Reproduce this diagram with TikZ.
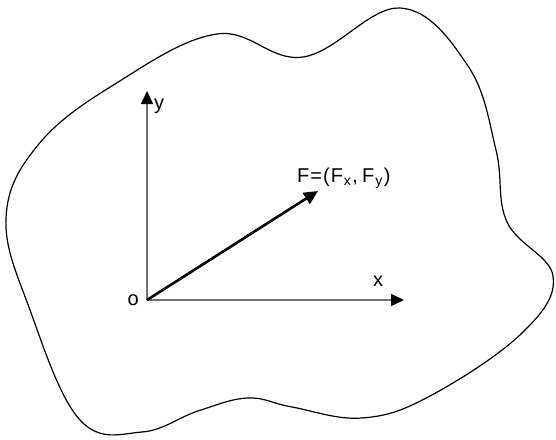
\documentclass[tikz,border=0pt]{standalone}
\usepackage{fontspec}
\setmainfont{Liberation Sans}
\usetikzlibrary{arrows.meta}
\begin{document}
\begin{tikzpicture}[x=1pt,y=-1pt,
  blob/.style={line width=1.2pt, black},
  axis/.style={line width=1.6pt, black!55, -{Triangle[length=13pt,width=12pt,fill=black,color=black]}},
  force/.style={line width=2.6pt, black, -{Triangle[length=14pt,width=13pt]}},
  lbl/.style={font=\fontsize{20}{20}\selectfont, inner sep=0pt}]
\useasboundingbox (0,0) rectangle (556,439);
\draw[blob] plot[smooth cycle, tension=0.65] coordinates {
 (6,218) (38,145) (115,84) (217,34) (303,57)
 (400,8) (468,66) (496,150) (507,222)
 (553,276) (522,333) (430,396) (362,418) (292,407) (248,398)
 (198,411) (142,432) (80,420) (30,310)};
\coordinate (O) at (147,300);
\coordinate (Ytip) at (147,91);
\coordinate (Xtip) at (404,300);
\coordinate (Ftip) at (318,191);
\draw[axis] (O) -- (Ytip);
\draw[axis] (O) -- (Xtip);
\draw[force] (O) -- (Ftip);
\node[lbl, anchor=west] (ylab) at (154,106) {y};
\node[lbl] (xlab) at (378,281) {x};
\node[lbl, anchor=east] (olab) at (139,300) {o};
\node[lbl, anchor=west] (flab) at (297,178) {F\kern1pt=\kern1pt(\kern1ptF\textsubscript{\kern1pt x}\kern1pt,\kern4ptF\textsubscript{\kern1pt y}\kern1pt)};
\end{tikzpicture}
\end{document}
